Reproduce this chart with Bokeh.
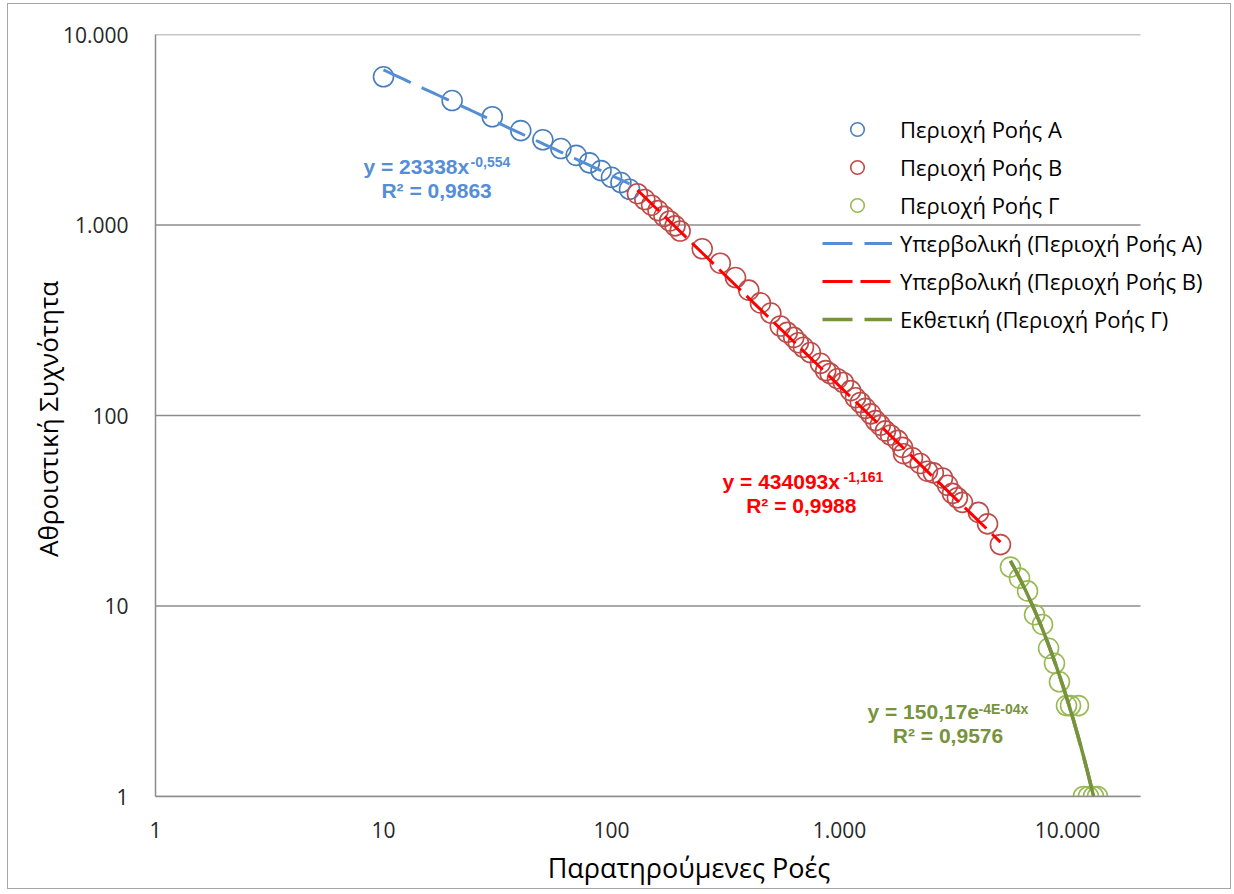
import numpy as np
from bokeh.plotting import figure
from bokeh.models import Range1d, FixedTicker, Legend, LegendItem, Label
from bokeh.embed import file_html
from bokeh.resources import INLINE

# ---------------- data ----------------
flow_a = [10, 20, 30, 40, 50, 60, 70, 80, 90, 100, 110, 120]
freq_a = [6000, 4500, 3700, 3130, 2800, 2520, 2320, 2120, 1930, 1780, 1670, 1540]

flow_b = [130, 140, 150, 160, 170, 180, 190, 200, 250, 300, 350, 400, 450, 500,
          550, 590, 630, 660, 695, 745, 825, 870, 910, 980, 1040, 1120, 1175,
          1235, 1300, 1370, 1440, 1510, 1590, 1675, 1800, 1890, 1910, 2090,
          2260, 2430, 2580, 2830, 2980, 3130, 3290, 3460, 4070, 4460, 5080]
freq_b = [1460, 1360, 1270, 1190, 1110, 1050, 990, 930, 750, 630, 530, 455, 390, 345,
          295, 273, 257, 241, 228, 214, 188, 172, 166, 156, 149, 135, 124,
          117, 109, 102, 94, 89, 83, 79, 74, 68, 63, 60,
          56, 51, 50, 47, 43, 39, 37, 35, 31, 27, 21]

flow_c = [5620, 6160, 6680, 7170, 7770, 8260, 8770, 9220, 9900, 10310, 11170,
          11750, 12360, 13000, 13540]
freq_c = [16, 14, 12, 9, 8, 6, 5, 4, 3, 3, 3, 1, 1, 1, 1]

tick_values = [1, 10, 100, 1000, 10000]
tick_labels = ["1", "10", "100", "1.000", "10.000"]

# axis extents
x_axis_min, x_axis_max = 1, 20900
y_axis_min, y_axis_max = 1, 10000

# trend line equations shown on the chart
coef_a, pow_a = 23338, -0.554
coef_b, pow_b = 434093, -1.161
coef_c, rate_c = 150.17, -3.85e-4

series_names = ["Περιοχή Ροής Α", "Περιοχή Ροής Β", "Περιοχή Ροής Γ"]
trend_names = ["Υπερβολική (Περιοχή Ροής Α)", "Υπερβολική (Περιοχή Ροής Β)",
               "Εκθετική (Περιοχή Ροής Γ)"]

# ---------------- styling ----------------
marker_colors = ["#4a7ebb", "#be4b48", "#98b954"]
trend_colors = ["#558ed5", "#ff0000", "#77933c"]
grid_color = "#8c8c8c"
FONT = "Open Sans"

# frame is widened to the right (room for the legend); gridlines & axis stop at x_axis_max
p = figure(x_axis_type="log", y_axis_type="log",
           x_range=Range1d(x_axis_min, 47850), y_range=Range1d(y_axis_min, y_axis_max),
           frame_width=1067, frame_height=762,
           min_border_left=147, min_border_right=8,
           min_border_top=30, min_border_bottom=92,
           output_backend="svg", toolbar_location=None)
p.styles = {"border": "1px solid #a6a6a6", "margin-left": "7px", "margin-top": "3px"}
p.outline_line_color = None
p.background_fill_color = "white"
p.border_fill_color = "white"

for ax in (p.xaxis[0], p.yaxis[0]):
    ax.ticker = FixedTicker(ticks=tick_values, minor_ticks=[])
    ax.major_label_overrides = dict(zip(tick_values, tick_labels))
    ax.axis_line_color = grid_color
    ax.axis_line_width = 1.5
    ax.major_tick_line_color = None
    ax.minor_tick_line_color = None
    ax.major_label_text_font = FONT
    ax.major_label_text_font_size = "21px"
    ax.major_label_text_color = "#262626"
    ax.axis_label_text_font = FONT
    ax.axis_label_text_font_size = "27px"
    ax.axis_label_text_font_style = "normal"
    ax.axis_label_text_color = "#000000"

p.yaxis.axis_label_text_font_size = "26px"
p.xaxis.bounds = (x_axis_min, x_axis_max)
p.xaxis.axis_label = "Παρατηρούμενες Ροές"
p.yaxis.axis_label = "Αθροιστική  Συχνότητα"
p.xaxis.major_label_standoff = 19
p.yaxis.major_label_standoff = 21
p.xaxis.axis_label_standoff = 8
p.yaxis.axis_label_standoff = -6

p.xgrid.visible = False
p.ygrid.visible = False
# horizontal gridlines, from the left axis to the end of the x axis
p.segment(x0=[x_axis_min] * len(tick_values), x1=[x_axis_max] * len(tick_values),
          y0=tick_values, y1=tick_values, line_color=grid_color, line_width=1.5)

# scatter series
flows = [flow_a, flow_b, flow_c]
freqs = [freq_a, freq_b, freq_c]
scat = []
for fx, fy, col in zip(flows, freqs, marker_colors):
    r = p.scatter(fx, fy, marker="circle", size=20, fill_alpha=0,
                  line_color=col, line_width=1.6)
    scat.append(r)

# trend lines
xa = np.geomspace(flow_a[0], flow_a[-1], 50)
xb = np.geomspace(flow_b[0], flow_b[-1], 50)
xc = np.linspace(flow_c[0], flow_c[-1], 80)
yc = coef_c * np.exp(rate_c * xc)
ta = p.line(xa, coef_a * xa ** pow_a, line_color=trend_colors[0], line_width=3,
            line_dash="30 12")
tb = p.line(xb, coef_b * xb ** pow_b, line_color=trend_colors[1], line_width=3,
            line_dash="30 8")
p.line(xc, yc, line_color=trend_colors[2], line_width=3.5)
# dashed copy on top of the solid line: looks solid on the plot, dashed in the legend
tc = p.line(xc, yc, line_color=trend_colors[2], line_width=3.5, line_dash="30 12")

legend = Legend(items=[
    LegendItem(label=series_names[0], renderers=[scat[0]]),
    LegendItem(label=series_names[1], renderers=[scat[1]]),
    LegendItem(label=series_names[2], renderers=[scat[2]]),
    LegendItem(label=trend_names[0], renderers=[ta]),
    LegendItem(label=trend_names[1], renderers=[tb]),
    LegendItem(label=trend_names[2], renderers=[tc]),
], location=(667, 460), border_line_color=None, background_fill_alpha=0,
    padding=0, margin=0, spacing=4, glyph_width=70, glyph_height=34,
    label_standoff=8, label_text_font=FONT, label_text_font_size="22px",
    label_text_color="#000000", label_text_baseline="middle")
p.add_layout(legend)

# trend-line equations
def add_label(x, y, text, color, size, align="left"):
    p.add_layout(Label(x=x, y=y, text=text, text_color=color,
                       text_font="Liberation Sans", text_font_style="bold",
                       text_font_size=size, text_align=align,
                       text_baseline="middle"))

add_label(8.17, 2028, "y = 23338x", trend_colors[0], "21px")
add_label(24.1, 2130, "-0,554", trend_colors[0], "14px")
add_label(17.1, 1517, "R² = 0,9863", trend_colors[0], "21px", "center")

add_label(307, 45.1, "y = 434093x", trend_colors[1], "21px")
add_label(1042, 47.6, "-1,161", trend_colors[1], "14px")
add_label(680, 33.7, "R² = 0,9988", trend_colors[1], "21px", "center")

add_label(1327, 2.79, "y = 150,17e", trend_colors[2], "21px")
add_label(4070, 2.88, "-4E-04x", trend_colors[2], "14px")
add_label(2992, 2.09, "R² = 0,9576", trend_colors[2], "21px", "center")

open("out.html", "w").write(file_html(p, INLINE))
